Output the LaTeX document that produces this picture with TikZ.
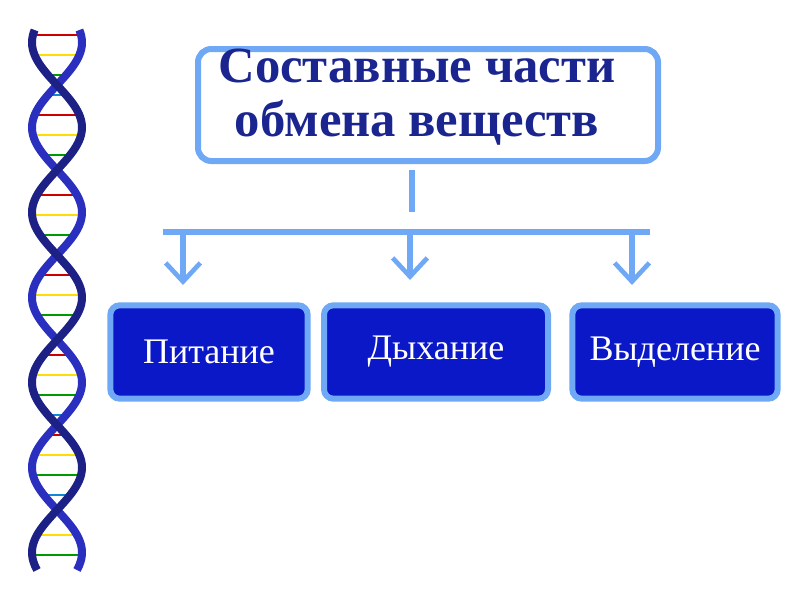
\documentclass[tikz,border=0pt]{standalone}
\usepackage{fontspec}
\setmainfont{Liberation Serif}
\usetikzlibrary{arrows.meta}
\definecolor{lb}{HTML}{6FA8F5}
\definecolor{db}{HTML}{0A18C8}
\definecolor{tt}{HTML}{1A2590}
\definecolor{hx}{HTML}{2A2FC0}
\tikzset{
 sub/.style={draw=lb,line width=4.5pt,fill=db,rounded corners=7pt,text=white,font=\fontsize{27}{30}\selectfont,minimum height=70pt,inner sep=0pt},
 conn/.style={draw=lb,line width=4.5pt},
 arr/.style={draw=lb,line width=4pt,-{Straight Barb[length=14pt,width=26pt,line width=3.5pt]}}
}
\begin{document}
\begin{tikzpicture}[x=0.75pt,y=-0.75pt]
\useasboundingbox (0,0) rectangle (800,600);
% helix
\foreach \i in {0,...,26}{
 \pgfmathsetmacro{\yy}{35+\i*20}
 \pgfmathsetmacro{\xa}{57+25*sin(2.1176*\yy)}
 \pgfmathsetmacro{\xb}{57-25*sin(2.1176*\yy)}
 \pgfmathsetmacro{\c}{mod(\i,4)}
 \ifdim\c pt<1pt \def\cc{red!80!black}\else\ifdim\c pt<2pt \def\cc{yellow!80!orange}\else\ifdim\c pt<3pt \def\cc{green!60!black}\else\def\cc{cyan!70!blue}\fi\fi\fi
 \draw[\cc,line width=2pt] (\xa,\yy) -- (\xb,\yy);
}
\draw[hx,line width=6pt,domain=30:570,samples=200] plot ({57+25*sin(2.1176*\x)},\x);
\draw[hx!70!black,line width=6pt,domain=30:570,samples=200] plot ({57-25*sin(2.1176*\x)},\x);
% title
\node[draw=lb,line width=4.5pt,fill=white,rounded corners=10pt,minimum width=345pt,minimum height=84pt] (t) at (428,105) {};
\node[text=tt,font=\bfseries\fontsize{38}{40}\selectfont,align=center] at (417,97) {Составные части\\обмена веществ};
\coordinate (j) at (412,232);
\coordinate (l) at (163,232);
\coordinate (r) at (650,232);
\node[sub,minimum width=148pt] (p) at (209,352) {Питание};
\node[sub,minimum width=168pt] (d) at (436,352) {Дыхание};
\node[sub,minimum width=154pt] (v) at (675,352) {Выделение};
\draw[conn] (412,170) -- (412,212);
\draw[conn] (l) -- (r);
\draw[arr] (183,232) -- (183,285);
\draw[arr] (410,232) -- (410,280);
\draw[arr] (632,232) -- (632,285);
\end{tikzpicture}
\end{document}
